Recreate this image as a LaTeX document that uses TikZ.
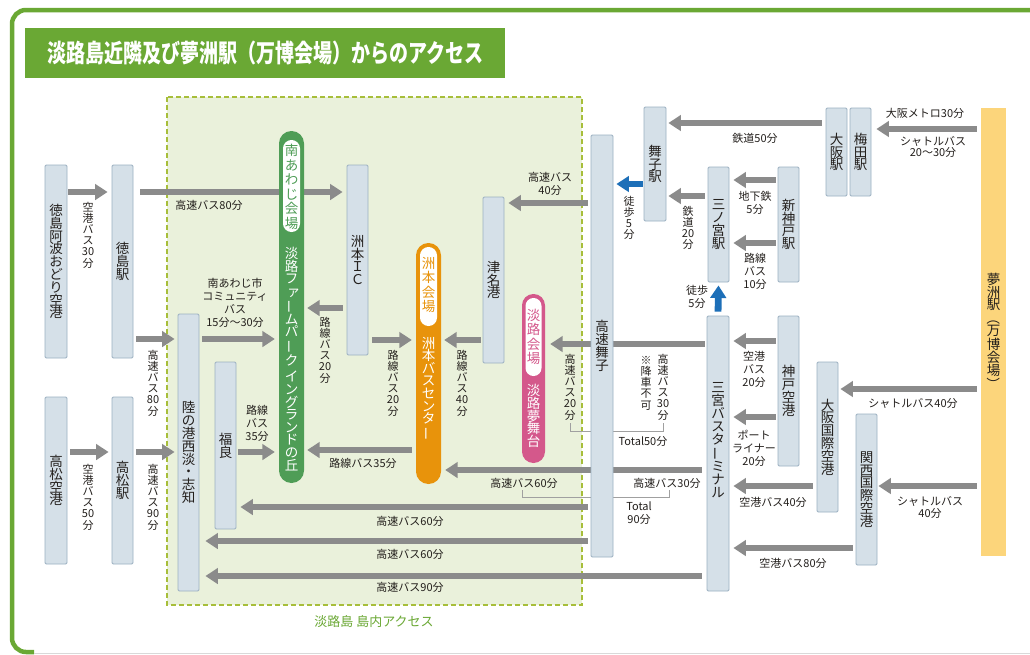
\documentclass[tikz,border=0pt]{standalone}
\usepackage{fontspec}
\usepackage{graphicx}
\setmainfont{Noto Sans CJK JP}
\newfontfamily\titlefont[FakeStretch=0.76]{Noto Sans CJK JP}
\usetikzlibrary{arrows.meta}
\pgfdeclarelayer{bgA}
\pgfdeclarelayer{bgB}
\pgfsetlayers{bgA,bgB,main}
\definecolor{frameG}{HTML}{6AA834}
\definecolor{regionF}{HTML}{EAF1DB}
\definecolor{regionD}{HTML}{A7BE3A}
\definecolor{nodeF}{HTML}{D5E0E8}
\definecolor{nodeD}{HTML}{9BB0C1}
\definecolor{arrG}{HTML}{8B8B8B}
\definecolor{txt}{HTML}{231F1C}
\definecolor{blueA}{HTML}{1D6FB8}
\definecolor{yel}{HTML}{FCD57B}
\definecolor{pillG}{HTML}{4F9D56}
\definecolor{pillO}{HTML}{E8930B}
\definecolor{pillP}{HTML}{D4588B}
\definecolor{brkC}{HTML}{A0A0A0}
\newcommand{\vb}{\rotatebox[origin=c]{90}{ー}}
\newcommand{\lpv}{\rotatebox[origin=c]{-90}{（}}
\newcommand{\rpv}{\rotatebox[origin=c]{-90}{）}}
\newcommand{\smk}[1]{\hspace*{0.3em}#1}
\begin{document}
\begin{tikzpicture}[x=1pt,y=-1pt,
  box/.style={draw=nodeD, fill=nodeF, line width=0.9pt, rounded corners=1.2pt, inner sep=0pt, text=txt, font=\fontsize{13.5}{12.8}\selectfont, align=center},
  pillbase/.style={inner sep=0pt, minimum width=25pt, rounded corners=12.4pt},
  inpill/.style={fill=white, inner sep=0pt, minimum width=17pt, rounded corners=8.4pt},
  arr/.style={draw=arrG, line width=6.8pt, -{Triangle[length=12.5pt,width=15.5pt]}, shorten <=3pt, shorten >=3pt},
  barr/.style={arr, draw=blueA},
  lbl/.style={text=txt, font=\fontsize{11}{11.2}\selectfont, align=center, inner sep=0pt},
  hlbl/.style={text=txt, font=\fontsize{11}{13}\selectfont, align=center, inner sep=0pt},
  ptext/.style={text=white, font=\fontsize{13.5}{12.6}\selectfont, align=center, inner sep=0pt},
  itext/.style={font=\fontsize{13.5}{14.5}\selectfont, align=center, inner sep=0pt},
  brk/.style={draw=brkC, line width=1pt},
]
\useasboundingbox (0,0) rectangle (1030,654);
\begin{pgfonlayer}{bgA}
\fill[white] (0,0) rectangle (1030,654);
\draw[regionD, fill=regionF, line width=1.3pt, dash pattern=on 5pt off 3pt] (167,97) rectangle (582,605);
\end{pgfonlayer}
% frame
\draw[frameG, line width=4.5pt, rounded corners=14pt] (1040,10) -- (12,10) -- (12,652) -- (34,652);
\draw[black!15, line width=0.5pt] (34,653) -- (1030,653);
% title
\node[fill=frameG, minimum width=480pt, minimum height=50pt, inner sep=0pt, anchor=north west] (title) at (25,28) {};
\node[text=white, font=\titlefont\bfseries\fontsize{25}{25}\selectfont, inner sep=0pt] (titletext) at (title.center) {淡路島近隣及び夢洲駅（万博会場）からのアクセス};
\node[text=frameG, font=\fontsize{13}{13}\selectfont, inner sep=0pt] (islandlbl) at (374,622) {淡路島 島内アクセス};

% nodes
\node[box, minimum width=22pt, minimum height=193pt] (tkap) at (56,261.5) {徳\\島\\阿\\波\\お\\ど\\り\\空\\港};
\node[box, minimum width=21pt, minimum height=193pt] (tkst) at (122.5,261.5) {徳\\島\\駅};
\node[box, minimum width=22pt, minimum height=167pt] (tmap) at (56,480.5) {高\\松\\空\\港};
\node[box, minimum width=21pt, minimum height=167pt] (tmst) at (122.5,480.5) {高\\松\\駅};
\node[box, minimum width=21pt, minimum height=277pt] (riku) at (188.5,452.5) {陸\\の\\港\\西\\淡\\・\\志\\知};
\node[box, minimum width=21pt, minimum height=167pt] (fukura) at (225.5,445.5) {福\\良};
\node[box, minimum width=21pt, minimum height=190pt] (sumotoIC) at (357.5,260) {洲\\本\\Ｉ\\Ｃ};
\node[box, minimum width=21pt, minimum height=166pt] (tsuna) at (493.5,280) {津\\名\\港};
\node[box, minimum width=22pt, minimum height=422pt] (kmaiko) at (602,346) {高\\速\\舞\\子};
\node[box, minimum width=22pt, minimum height=114pt] (maiko) at (655,164) {舞\\子\\駅};
\node[box, minimum width=21pt, minimum height=115pt] (sannomiya) at (718.5,224.5) {三\\ノ\\宮\\駅};
\node[box, minimum width=21pt, minimum height=115pt] (shinkobe) at (788.5,224.5) {新\\神\\戸\\駅};
\node[box, minimum width=22pt, minimum height=275pt] (sbt) at (718,453.5) {三\\宮\\バ\\ス\\タ\\\vb\\ミ\\ナ\\ル\\[14pt]};
\node[box, minimum width=21pt, minimum height=150pt] (kobeap) at (788.5,391) {神\\戸\\空\\港};
\node[box, minimum width=21pt, minimum height=150pt] (itami) at (827.5,437) {大\\阪\\国\\際\\空\\港};
\node[box, minimum width=21pt, minimum height=151pt] (kansai) at (866.5,489.5) {関\\西\\国\\際\\空\\港};
\node[box, minimum width=21pt, minimum height=88pt] (osaka) at (836.5,152) {大\\阪\\駅};
\node[box, minimum width=21pt, minimum height=88pt] (umeda) at (860.5,152) {梅\\田\\駅};
\node[fill=yel, inner sep=0pt, minimum width=25pt, minimum height=448pt, text=txt, font=\fontsize{13.5}{12.4}\selectfont, align=center] (yume) at (993.5,332) {夢\\洲\\駅\\\lpv\\万\\博\\会\\場\\\rpv};

% pills
\node[pillbase, fill=pillG, minimum height=352pt] (minami) at (291.5,307) {};
\node[inpill, minimum height=92pt] (minamiIn) at (291.5,186) {};
\node[itext, text=pillG] (minamiT) at (291.5,187) {南\\あ\\わ\\じ\\会\\場};
\node[ptext] (minamiS) at (291.5,359) {淡\\路\\フ\\\smk{ァ}\\\vb\\ム\\パ\\\vb\\ク\\[4pt]イ\\ン\\グ\\ラ\\ン\\ド\\の\\丘};

\node[pillbase, fill=pillO, minimum height=241pt] (sumoto) at (428.5,363.5) {};
\node[inpill, minimum height=79pt] (sumotoIn) at (428.5,286.5) {};
\node[itext, text=pillO] (sumotoT) at (428.5,285) {洲\\本\\会\\場};
\node[ptext] (sumotoS) at (428.5,388.5) {洲\\本\\バ\\ス\\セ\\ン\\タ\\\vb};

\node[pillbase, fill=pillP, minimum width=23pt, rounded corners=11.4pt, minimum height=169pt] (awaji) at (533.5,378.5) {};
\node[inpill, minimum width=16pt, rounded corners=7.9pt, minimum height=78pt] (awajiIn) at (533.5,337) {};
\node[itext, text=pillP] (awajiT) at (533.5,337) {淡\\路\\会\\場};
\node[ptext] (awajiS) at (533.5,416) {淡\\路\\夢\\舞\\台};

% connectors
\begin{pgfonlayer}{bgB}
\draw[arr, shorten <=1pt, shorten >=4pt] (tkap.east |- 0,192) -- (tkst.west |- 0,192);
\draw[arr, shorten <=7pt, shorten >=4pt] (tkst.east |- 0,192) -- (sumotoIC.west |- 0,192);
\draw[arr] (tkst.east |- 0,339) -- (riku.west |- 0,339);
\draw[arr] (tmap.east |- 0,452) -- (tmst.west |- 0,452);
\draw[arr] (tmst.east |- 0,452) -- (riku.west |- 0,452);
\draw[arr, shorten >=4pt] (riku.east |- 0,339) -- (minami.west |- 0,339);
\draw[arr, shorten <=2pt, shorten >=4pt] (fukura.east |- 0,452) -- (minami.west |- 0,452);
\draw[arr, shorten <=4pt] (sumotoIC.west |- 0,308) -- (minami.east |- 0,308);
\draw[arr, shorten <=4pt, shorten >=4pt] (sumotoIC.east |- 0,340) -- (sumoto.west |- 0,340);
\draw[arr, shorten <=4pt] (sumoto.west |- 0,450) -- (minami.east |- 0,450);
\draw[arr, shorten <=2pt] (tsuna.west |- 0,340) -- (sumoto.east |- 0,340);
\draw[arr, shorten >=4pt] (kmaiko.west |- 0,203) -- (tsuna.east |- 0,203);
\draw[arr, shorten <=2pt, shorten >=5pt] (sbt.west |- 0,344) -- (awaji.east |- 0,344);
\draw[arr, shorten <=5pt, shorten >=4pt] (sbt.west |- 0,470) -- (sumoto.east |- 0,470);
\draw[arr, shorten >=4pt] (kmaiko.west |- 0,507) -- (fukura.east |- 0,507);
\draw[arr, shorten >=6pt] (kmaiko.west |- 0,541) -- (riku.east |- 0,541);
\draw[arr, shorten <=5pt, shorten >=6pt] (sbt.west |- 0,576) -- (riku.east |- 0,576);
\draw[barr, shorten <=1pt] (maiko.west |- 0,184) -- (kmaiko.east |- 0,184);
\draw[arr, shorten >=2pt] (sannomiya.west |- 0,196) -- (maiko.east |- 0,196);
\draw[arr, shorten <=2pt, shorten >=4pt] (shinkobe.west |- 0,180) -- (sannomiya.east |- 0,180);
\draw[arr, shorten <=2pt, shorten >=4pt] (shinkobe.west |- 0,243) -- (sannomiya.east |- 0,243);
\draw[barr, shorten <=4pt] (sbt.north) -- (sannomiya.south);
\draw[arr, shorten <=4pt, shorten >=2pt] (osaka.west |- 0,123) -- (maiko.east |- 0,123);
\draw[arr, shorten <=4pt, shorten >=5pt] (yume.west |- 0,129) -- (umeda.east |- 0,129);
\draw[arr, shorten <=2pt, shorten >=4pt] (kobeap.west |- 0,341) -- (sbt.east |- 0,341);
\draw[arr, shorten <=2pt, shorten >=4pt] (kobeap.west |- 0,417) -- (sbt.east |- 0,417);
\draw[arr, shorten <=4pt, shorten >=4pt] (itami.west |- 0,486) -- (sbt.east |- 0,486);
\draw[arr, shorten <=3pt, shorten >=4pt] (kansai.west |- 0,548) -- (sbt.east |- 0,548);
\draw[arr, shorten <=4pt, shorten >=2pt] (yume.west |- 0,389) -- (itami.east |- 0,389);
\draw[arr, shorten <=4pt, shorten >=1pt] (yume.west |- 0,486) -- (kansai.east |- 0,486);
\draw[brk] (570,423) -- (570,431) -- (663,431) -- (663,423);
\draw[brk] (522,490) -- (522,497) -- (669,497) -- (669,490);
\end{pgfonlayer}

% labels
\node[lbl] (lb1) at (88,235) {空\\港\\バ\\ス\\30\\分};
\node[lbl] (lb2) at (153,383) {高\\速\\バ\\ス\\80\\分};
\node[lbl] (lb3) at (88,497) {空\\港\\バ\\ス\\50\\分};
\node[lbl] (lb4) at (153,497) {高\\速\\バ\\ス\\90\\分};
\node[hlbl] (lb5) at (209,205) {高速バス80分};
\node[hlbl] (lb6) at (235,303) {南あわじ市\\コミュニティ\\バス\\15分～30分};
\node[hlbl] (lb7) at (257,423) {路線\\バス\\35分};
\node[lbl] (lb8) at (325,350) {路\\線\\バ\\ス\\20\\分};
\node[lbl] (lb9) at (393,383) {路\\線\\バ\\ス\\20\\分};
\node[hlbl] (lb10) at (363,463) {路線バス35分};
\node[lbl] (lb11) at (462,383) {路\\線\\バ\\ス\\40\\分};
\node[hlbl] (lb12) at (550,184) {高速バス\\40分};
\node[lbl] (lb13) at (570,387) {高\\速\\バ\\ス\\20\\分};
\node[lbl] (lb14) at (646,383) {※\\降\\車\\不\\可};
\node[lbl] (lb15) at (663,387) {高\\速\\バ\\ス\\30\\分};
\node[hlbl] (lb16) at (643,441) {Total50分};
\node[hlbl] (lb17) at (524,483) {高速バス60分};
\node[hlbl] (lb18) at (667,483) {高速バス30分};
\node[hlbl] (lb19) at (639,513) {Total\\90分};
\node[hlbl] (lb20) at (410,521) {高速バス60分};
\node[hlbl] (lb21) at (410,554) {高速バス60分};
\node[hlbl] (lb22) at (410,587) {高速バス90分};
\node[lbl] (lb23) at (629,218) {徒\\歩\\5\\分};
\node[lbl] (lb24) at (688,228) {鉄\\道\\20\\分};
\node[hlbl] (lb25) at (755,138) {鉄道50分};
\node[hlbl] (lb26) at (755,203) {地下鉄\\5分};
\node[hlbl] (lb27) at (755,271) {路線\\バス\\10分};
\node[hlbl] (lb28) at (697,297) {徒歩\\5分};
\node[hlbl] (lb29) at (925,113) {大阪メトロ30分};
\node[hlbl, font=\fontsize{11}{11.5}\selectfont] (lb30) at (933,147) {シャトルバス\\20～30分};
\node[hlbl] (lb31) at (754,369) {空港\\バス\\20分};
\node[hlbl] (lb32) at (754,448) {ポート\\ライナー\\20分};
\node[hlbl] (lb33) at (773,502) {空港バス40分};
\node[hlbl] (lb34) at (793,563) {空港バス80分};
\node[hlbl] (lb35) at (913,403) {シャトルバス40分};
\node[hlbl, font=\fontsize{11}{12}\selectfont] (lb36) at (930,507) {シャトルバス\\40分};
\end{tikzpicture}
\end{document}
